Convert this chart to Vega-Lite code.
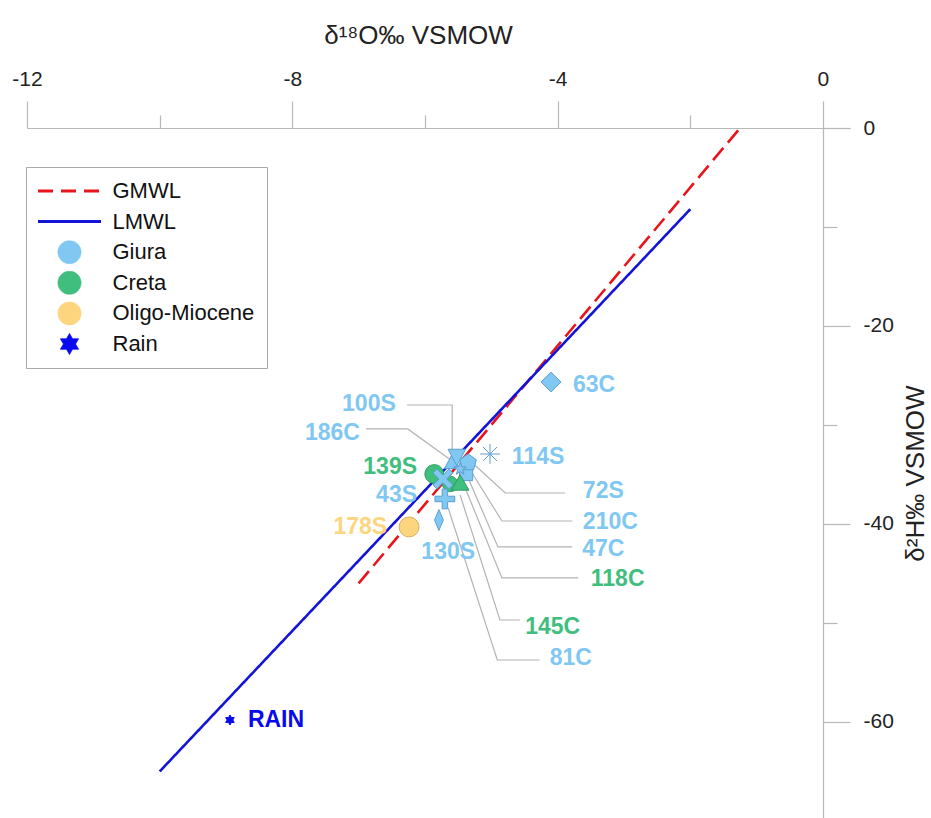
{
  "$schema": "https://vega.github.io/schema/vega-lite/v6.json",
  "autosize": "none",
  "padding": {"left": 27, "top": 128, "right": 81, "bottom": 0},
  "width": 823,
  "height": 690,
  "config": {
    "view": {"stroke": null},
    "font": "Liberation Sans",
    "axis": {
      "grid": false,
      "domainColor": "#b8b8b8",
      "tickColor": "#b8b8b8",
      "domainWidth": 1.2,
      "tickWidth": 1.2,
      "labelFont": "Liberation Sans",
      "labelFontSize": 21,
      "labelColor": "#222222",
      "labelFlush": false,
      "labelOverlap": false,
      "titleFont": "Liberation Sans",
      "titleFontSize": 26,
      "titleFontWeight": "normal",
      "titleColor": "#222222"
    }
  },
  "datasets": {
    "lines": [
      {"group": "GMWL", "x": -7, "y": -46},
      {"group": "GMWL", "x": -1.25, "y": 0},
      {"group": "LMWL", "x": -10, "y": -65},
      {"group": "LMWL", "x": -2, "y": -8.2}
    ],
    "leaders": [
      {"sample": "100S", "o": 0, "x": -6.27, "y": -27.98},
      {"sample": "100S", "o": 1, "x": -5.59, "y": -27.98},
      {"sample": "100S", "o": 2, "x": -5.59, "y": -32.83},
      {"sample": "186C", "o": 0, "x": -6.89, "y": -30.4},
      {"sample": "186C", "o": 1, "x": -6.26, "y": -30.4},
      {"sample": "186C", "o": 2, "x": -5.59, "y": -33.64},
      {"sample": "72S", "o": 0, "x": -3.89, "y": -36.87},
      {"sample": "72S", "o": 1, "x": -4.79, "y": -36.87},
      {"sample": "72S", "o": 2, "x": -5.25, "y": -34.04},
      {"sample": "210C", "o": 0, "x": -3.78, "y": -39.7},
      {"sample": "210C", "o": 1, "x": -4.84, "y": -39.7},
      {"sample": "210C", "o": 2, "x": -5.29, "y": -34.85},
      {"sample": "47C", "o": 0, "x": -3.78, "y": -42.32},
      {"sample": "47C", "o": 1, "x": -4.9, "y": -42.32},
      {"sample": "47C", "o": 2, "x": -5.35, "y": -35.35},
      {"sample": "118C", "o": 0, "x": -3.69, "y": -45.45},
      {"sample": "118C", "o": 1, "x": -4.84, "y": -45.45},
      {"sample": "118C", "o": 2, "x": -5.4, "y": -36.26},
      {"sample": "145C", "o": 0, "x": -4.57, "y": -49.7},
      {"sample": "145C", "o": 1, "x": -4.87, "y": -49.7},
      {"sample": "145C", "o": 2, "x": -5.47, "y": -37.07},
      {"sample": "81C", "o": 0, "x": -4.27, "y": -53.74},
      {"sample": "81C", "o": 1, "x": -4.91, "y": -53.74},
      {"sample": "81C", "o": 2, "x": -5.65, "y": -38.38}
    ],
    "samples": [
      {"sample": "63C", "group": "Giura", "x": -4.1, "y": -25.66},
      {"sample": "114S", "group": "Giura", "x": -5.02, "y": -32.93},
      {"sample": "186C", "group": "Giura", "x": -5.59, "y": -33.74},
      {"sample": "47C", "group": "Giura", "x": -5.38, "y": -34.95},
      {"sample": "100S", "group": "Giura", "x": -5.52, "y": -33.23},
      {"sample": "72S", "group": "Giura", "x": -5.35, "y": -33.74},
      {"sample": "210C", "group": "Giura", "x": -5.47, "y": -34.44},
      {"sample": "139S", "group": "Creta", "x": -5.86, "y": -34.95},
      {"sample": "145C", "group": "Creta", "x": -5.62, "y": -35.96},
      {"sample": "118C", "group": "Creta", "x": -5.47, "y": -35.86},
      {"sample": "43S", "group": "Giura", "x": -5.73, "y": -35.45},
      {"sample": "81C", "group": "Giura", "x": -5.7, "y": -37.47},
      {"sample": "130S", "group": "Giura", "x": -5.79, "y": -39.6},
      {"sample": "178S", "group": "Oligo-Miocene", "x": -6.24, "y": -40.3},
      {"sample": "Rain", "group": "Rain", "x": -8.94, "y": -59.8}
    ],
    "labels": [
      {"text": "63C", "group": "Giura", "anchor": "left", "x": -3.77, "y": -25.96},
      {"text": "114S", "group": "Giura", "anchor": "left", "x": -4.69, "y": -33.23},
      {"text": "72S", "group": "Giura", "anchor": "left", "x": -3.62, "y": -36.67},
      {"text": "210C", "group": "Giura", "anchor": "left", "x": -3.62, "y": -39.8},
      {"text": "47C", "group": "Giura", "anchor": "left", "x": -3.63, "y": -42.53},
      {"text": "118C", "group": "Creta", "anchor": "left", "x": -3.5, "y": -45.56},
      {"text": "145C", "group": "Creta", "anchor": "left", "x": -4.49, "y": -50.4},
      {"text": "81C", "group": "Giura", "anchor": "left", "x": -4.12, "y": -53.54},
      {"text": "RAIN", "group": "Rain", "anchor": "left", "x": -8.67, "y": -59.8},
      {"text": "100S", "group": "Giura", "anchor": "right", "x": -6.44, "y": -27.88},
      {"text": "186C", "group": "Giura", "anchor": "right", "x": -6.98, "y": -30.81},
      {"text": "139S", "group": "Creta", "anchor": "right", "x": -6.12, "y": -34.24},
      {"text": "43S", "group": "Giura", "anchor": "right", "x": -6.12, "y": -37.07},
      {"text": "178S", "group": "Oligo-Miocene", "anchor": "right", "x": -6.57, "y": -40.3},
      {"text": "130S", "group": "Giura", "anchor": "center", "x": -5.65, "y": -42.83}
    ]
  },
  "encoding": {
    "x": {
      "field": "x",
      "type": "quantitative",
      "scale": {"domain": [-12, 0.4076], "nice": false, "zero": false},
      "axis": {
        "orient": "top",
        "values": [-12, -10, -8, -6, -4, -2, 0],
        "labelExpr": "datum.value % 4 === 0 ? '' + datum.value : ''",
        "tickSize": {"condition": {"test": "datum.value % 4 === 0", "value": 27}, "value": 13},
        "labelPadding": 12,
        "title": "δ¹⁸O‰ VSMOW",
        "titlePadding": 20,
        "titleX": 391
      }
    },
    "y": {
      "field": "y",
      "type": "quantitative",
      "scale": {"domain": [-69.7, 0], "nice": false, "zero": false},
      "axis": {
        "orient": "right",
        "offset": -27,
        "values": [-60, -50, -40, -30, -20, -10, 0],
        "labelExpr": "datum.value % 20 === 0 ? '' + datum.value : ''",
        "tickSize": {"condition": {"test": "datum.value % 20 === 0", "value": 27}, "value": 14},
        "labelPadding": 13,
        "title": "δ²H‰ VSMOW",
        "titleAngle": 270,
        "titleBaseline": "top",
        "titlePadding": 9
      }
    }
  },
  "layer": [
    {
      "data": {"name": "lines"},
      "mark": {"type": "line", "strokeWidth": 2.6},
      "encoding": {
        "color": {
          "field": "group",
          "type": "nominal",
          "scale": {
            "domain": ["GMWL", "LMWL", "Giura", "Creta", "Oligo-Miocene", "Rain"],
            "range": ["#e8141c", "#1414d8", "#80c8f2", "#3fbe7e", "#fdd57e", "#0a0aee"]
          },
          "legend": {
            "title": null,
            "orient": "none",
            "legendX": -1,
            "legendY": 39,
            "strokeColor": "#aaaaaa",
            "fillColor": "#ffffff",
            "padding": 12,
            "labelFont": "Liberation Sans",
            "labelFontSize": 22,
            "labelColor": "#111111",
            "labelOffset": 32,
            "symbolOffset": 20.5,
            "symbolSize": 3969,
            "clipHeight": 24,
            "rowPadding": 6.6,
            "labelLimit": 300,
            "encode": {
              "symbols": {
                "update": {
                  "shape": {"signal": "(datum.value === 'GMWL' || datum.value === 'LMWL') ? 'stroke' : datum.value === 'Rain' ? 'M0,-1L0.289,-0.5L0.866,-0.5L0.577,0L0.866,0.5L0.289,0.5L0,1L-0.289,0.5L-0.866,0.5L-0.577,0L-0.866,-0.5L-0.289,-0.5Z' : 'circle'"},
                  "size": {"signal": "(datum.value === 'GMWL' || datum.value === 'LMWL') ? 3969 : datum.value === 'Rain' ? 441 : 530"},
                  "fill": {"signal": "(datum.value === 'GMWL' || datum.value === 'LMWL') ? 'transparent' : scale('color', datum.value)"},
                  "stroke": {"signal": "(datum.value === 'GMWL' || datum.value === 'LMWL' || datum.value === 'Rain') ? scale('color', datum.value) : '#a8a8a8'"},
                  "strokeWidth": {"signal": "(datum.value === 'GMWL' || datum.value === 'LMWL') ? 3 : 0.8"},
                  "strokeDash": {"signal": "datum.value === 'GMWL' ? [15, 8] : [1, 0]"},
                  "opacity": {"value": 1}
                }
              }
            }
          }
        },
        "strokeDash": {
          "field": "group",
          "type": "nominal",
          "scale": {"domain": ["GMWL", "LMWL"], "range": [[16, 7], [1, 0]]},
          "legend": null
        }
      }
    },
    {
      "data": {"name": "leaders"},
      "mark": {"type": "line", "color": "#b3b3b3", "strokeWidth": 1.2},
      "encoding": {
        "detail": {"field": "sample", "type": "nominal"},
        "order": {"field": "o", "type": "quantitative"}
      }
    },
    {
      "data": {"name": "samples"},
      "mark": {"type": "point", "filled": true, "opacity": 1, "size": 484, "strokeWidth": 1},
      "encoding": {
        "color": {"field": "group", "type": "nominal"},
        "stroke": {
          "field": "group",
          "type": "nominal",
          "scale": {
            "domain": ["GMWL", "LMWL", "Giura", "Creta", "Oligo-Miocene", "Rain"],
            "range": ["#e8141c", "#1414d8", "#5c9fd0", "#2c9c64", "#d8b060", "#0a0aee"]
          },
          "legend": null
        },
        "shape": {
          "field": "sample",
          "type": "nominal",
          "scale": {
            "domain": ["63C", "114S", "186C", "47C", "100S", "72S", "210C", "139S", "145C", "118C", "43S", "81C", "130S", "178S", "Rain"],
            "range": [
              "M0,-0.9L0.9,0L0,0.9L-0.9,0Z",
              "M0,-0.9L0,0.9M-0.9,0L0.9,0M-0.64,-0.64L0.64,0.64M-0.64,0.64L0.64,-0.64",
              "M0,-0.7L0.7,0.6L-0.7,0.6Z",
              "M-0.6,-0.6L0.6,-0.6L0.6,0.6L-0.6,0.6Z",
              "M-0.8,-0.7L0.8,-0.7L0,0.8Z",
              "M0,-0.75L0.75,-0.2L0.5,0.7L-0.5,0.7L-0.75,-0.2Z",
              "M0,-0.6L0.141,-0.194L0.571,-0.185L0.228,0.074L0.353,0.485L0,0.24L-0.353,0.485L-0.228,0.074L-0.571,-0.185L-0.141,-0.194Z",
              "M-0.85,0A0.85,0.85 0 1,0 0.85,0A0.85,0.85 0 1,0 -0.85,0Z",
              "M-0.7,0A0.7,0.7 0 1,0 0.7,0A0.7,0.7 0 1,0 -0.7,0Z",
              "M0,-0.75L0.8,0.65L-0.8,0.65Z",
              "M-0.9,-0.55L-0.55,-0.9L0,-0.35L0.55,-0.9L0.9,-0.55L0.35,0L0.9,0.55L0.55,0.9L0,0.35L-0.55,0.9L-0.9,0.55L-0.35,0Z",
              "M-0.25,-0.9L0.25,-0.9L0.25,-0.25L0.9,-0.25L0.9,0.25L0.25,0.25L0.25,0.9L-0.25,0.9L-0.25,0.25L-0.9,0.25L-0.9,-0.25L-0.25,-0.25Z",
              "M0,-0.95L0.4,0L0,0.95L-0.4,0Z",
              "M-0.9,0A0.9,0.9 0 1,0 0.9,0A0.9,0.9 0 1,0 -0.9,0Z",
              "M0,-0.45L0.13,-0.225L0.39,-0.225L0.26,0L0.39,0.225L0.13,0.225L0,0.45L-0.13,0.225L-0.39,0.225L-0.26,0L-0.39,-0.225L-0.13,-0.225Z"
            ]
          },
          "legend": null
        }
      }
    },
    {
      "data": {"name": "labels"},
      "transform": [{"filter": "datum.anchor === 'left'"}],
      "mark": {"type": "text", "align": "left", "baseline": "middle", "font": "Liberation Sans", "fontSize": 23, "fontWeight": "bold"},
      "encoding": {
        "text": {"field": "text"},
        "color": {"field": "group", "type": "nominal"}
      }
    },
    {
      "data": {"name": "labels"},
      "transform": [{"filter": "datum.anchor === 'right'"}],
      "mark": {"type": "text", "align": "right", "baseline": "middle", "font": "Liberation Sans", "fontSize": 23, "fontWeight": "bold"},
      "encoding": {
        "text": {"field": "text"},
        "color": {"field": "group", "type": "nominal"}
      }
    },
    {
      "data": {"name": "labels"},
      "transform": [{"filter": "datum.anchor === 'center'"}],
      "mark": {"type": "text", "align": "center", "baseline": "middle", "font": "Liberation Sans", "fontSize": 23, "fontWeight": "bold"},
      "encoding": {
        "text": {"field": "text"},
        "color": {"field": "group", "type": "nominal"}
      }
    }
  ]
}
